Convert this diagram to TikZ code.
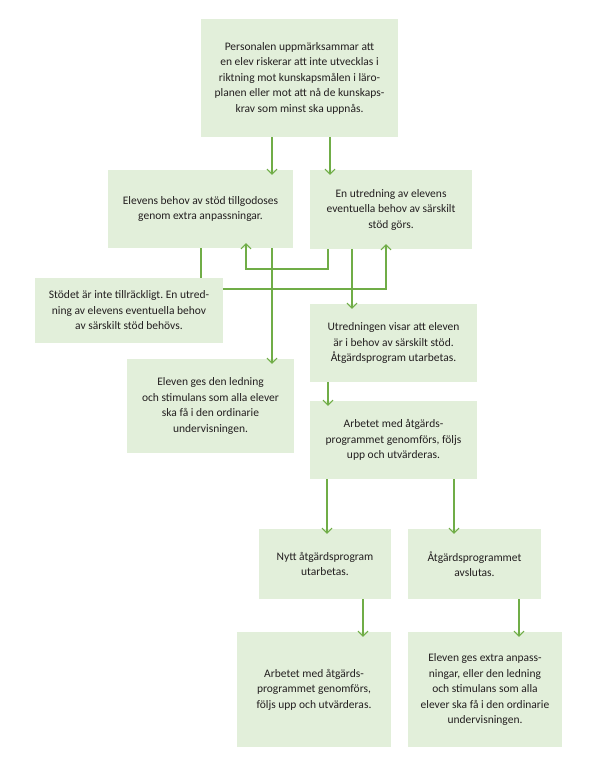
\documentclass[tikz,border=0pt]{standalone}
\usepackage{fontspec}
\setmainfont{Carlito}
\frenchspacing
\usetikzlibrary{arrows.meta}
\definecolor{boxfill}{RGB}{226,239,218}
\definecolor{linegreen}{RGB}{112,173,71}
\definecolor{txt}{RGB}{35,31,32}
\tikzset{
  box/.style={fill=boxfill, draw=none, inner sep=0pt, align=center, text=txt,
    font=\fontsize{11.5}{15.5}\selectfont},
  conn/.style={draw=linegreen, line width=1.2pt},
  arr/.style={conn, -{Straight Barb[length=5pt,width=10pt,line width=1pt]}, shorten >=-5pt},
}
\begin{document}
\begin{tikzpicture}[x=1pt,y=-1pt]
\useasboundingbox[fill=white] (0,0) rectangle (596,759);
% boxes
\node[box, minimum width=197pt, minimum height=118pt] (A) at (299.5,78) {Personalen uppmärksammar att\\en elev riskerar att inte utvecklas i\\riktning mot kunskapsmålen i läro-\\planen eller mot att nå de kunskaps-\\krav som minst ska uppnås.};
\node[box, minimum width=185pt, minimum height=78pt] (B) at (200.5,209) {Elevens behov av stöd tillgodoses\\genom extra anpassningar.};
\node[box, minimum width=162pt, minimum height=79pt] (C) at (391,209.5) {En utredning av elevens\\eventuella behov av särskilt\\stöd görs.};
\node[box, minimum width=188pt, minimum height=65pt] (D) at (129,310.5) {Stödet är inte tillräckligt. En utred-\\ning av elevens eventuella behov\\av särskilt stöd behövs.};
\node[box, minimum width=167pt, minimum height=94pt] (E) at (210.5,406) {Eleven ges den ledning\\och stimulans som alla elever\\ska få i den ordinarie\\undervisningen.};
\node[box, minimum width=167pt, minimum height=78pt] (F) at (393.5,343) {Utredningen visar att eleven\\är i behov av särskilt stöd.\\Åtgärdsprogram utarbetas.};
\node[box, minimum width=167pt, minimum height=78pt] (G) at (393.5,440) {Arbetet med åtgärds-\\programmet genomförs, följs\\upp och utvärderas.};
\node[box, minimum width=132pt, minimum height=70pt] (H) at (325,564) {Nytt åtgärdsprogram\\utarbetas.};
\node[box, minimum width=133pt, minimum height=70pt] (I) at (474.5,564) {Åtgärdsprogrammet\\avslutas.};
\node[box, minimum width=154pt, minimum height=115pt] (J) at (314,689.5) {Arbetet med åtgärds-\\programmet genomförs,\\följs upp och utvärderas.};
\node[box, minimum width=154pt, minimum height=115pt] (K) at (485,689.5) {Eleven ges extra anpass-\\ningar, eller den ledning\\och stimulans som alla\\elever ska få i den ordinarie\\undervisningen.};
% helper coordinates
\coordinate (xAB) at (272,0);
\coordinate (xAC) at (330,0);
\coordinate (xBD) at (201,0);
\coordinate (xBE) at (272,0);
\coordinate (xCB1) at (328,0);
\coordinate (xCB2) at (246,0);
\coordinate (yCB) at (0,269);
\coordinate (xDC) at (386,0);
\coordinate (yDC) at (0,289);
\coordinate (xCF) at (352,0);
\coordinate (xFG) at (328,0);
\coordinate (xGH) at (327,0);
\coordinate (xGI) at (454,0);
\coordinate (xHJ) at (363,0);
\coordinate (xIK) at (519,0);
% connectors
\draw[arr] (A.south -| xAB) -- (B.north -| xAB);
\draw[arr] (A.south -| xAC) -- (C.north -| xAC);
\draw[conn] (B.south -| xBD) -- (D.north -| xBD);
\draw[arr] (B.south -| xBE) -- (E.north -| xBE);
\draw[arr] (C.south -| xCB1) -- (xCB1 |- yCB) -- (xCB2 |- yCB) -- (B.south -| xCB2);
\draw[arr] (D.east |- yDC) -- (xDC |- yDC) -- (C.south -| xDC);
\draw[arr] (C.south -| xCF) -- (F.north -| xCF);
\draw[arr] (F.south -| xFG) -- (G.north -| xFG);
\draw[arr] (G.south -| xGH) -- (H.north -| xGH);
\draw[arr] (G.south -| xGI) -- (I.north -| xGI);
\draw[arr] (H.south -| xHJ) -- (J.north -| xHJ);
\draw[arr] (I.south -| xIK) -- (K.north -| xIK);
\end{tikzpicture}
\end{document}
